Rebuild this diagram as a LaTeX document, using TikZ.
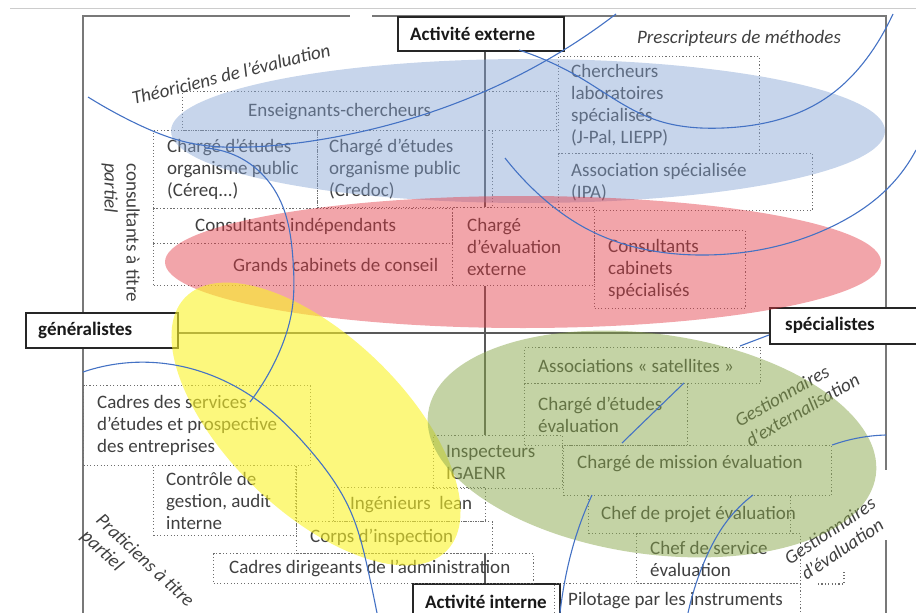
\documentclass[tikz,border=0pt]{standalone}
\usepackage{fontspec}
\setmainfont{Carlito}
\usepackage{tikz}
\usetikzlibrary{positioning,hobby}
\definecolor{textgray}{RGB}{64,64,64}
\definecolor{dotgray}{RGB}{110,110,110}
\definecolor{framegray}{RGB}{120,120,120}
\definecolor{curveblue}{RGB}{68,114,196}
\definecolor{ellblue}{RGB}{131,162,211}
\definecolor{ellred}{RGB}{227,56,67}
\definecolor{ellyellow}{RGB}{250,243,38}
\definecolor{ellgreen}{RGB}{137,167,75}
\tikzset{
  dbox/.style 2 args={draw=dotgray, line width=1.1pt, dash pattern=on 1.1pt off 2.3pt,
    inner sep=0pt, anchor=north west, minimum width=#1pt, minimum height=#2pt},
  lbox/.style 2 args={draw=black!85, line width=1.5pt, fill=white,
    inner sep=0pt, anchor=north west, minimum width=#1pt, minimum height=#2pt},
  txt/.style={font=\fontsize{19}{22}\selectfont, text=textgray, inner sep=0pt, align=left},
  lbl/.style={font=\fontsize{19}{22}\selectfont\bfseries, text=black!90, inner sep=0pt},
  role/.style={font=\fontsize{19}{22}\selectfont\itshape, text=textgray, inner sep=0pt, align=left},
  axis/.style={draw=black!65, line width=1.2pt},
  frame/.style={draw=framegray, line width=1.5pt},
  arc/.style={draw=curveblue, line width=1.1pt},
}

\begin{document}
\begin{tikzpicture}[x=1pt,y=-1pt]
\useasboundingbox (0,0) rectangle (916,613);
\clip (0,0) rectangle (916,613);
% cadre
\draw[black!20] (10,8) -- (916,8);
\draw[frame] (83,613) -- (83,16) -- (350,16);
\draw[frame] (372,16) -- (886,16) -- (886,470);
\draw[frame] (886,540) -- (886,613);

% axes : activite externe / interne, generalistes / specialistes
\node[lbox={166}{34}] (b-actext) at (397,16) {};
\node[lbl, right=13pt of b-actext.west] (actext) {Activité externe};
\node[lbox={152}{35}] (b-genera) at (25,312) {};
\node[lbl, right=13pt of b-genera.west] (genera) {généralistes};
\node[lbox={170}{36}] (b-specia) at (769,307) {};
\node[lbl, right=16pt of b-specia.west] (specia) {spécialistes};
\node[lbox={147}{36}] (b-actint) at (412,583) {};
\node[lbl, right=13pt of b-actint.west] (actint) {Activité interne};

% boites en pointille
\node[dbox={374}{39}] (b-ensch) at (182,91) {};
\node[dbox={164}{78}] (b-cereq) at (153,130) {};
\node[dbox={175}{77}] (b-credoc) at (317,130) {};
\node[dbox={201}{97}] (b-cherch) at (558,56) {};
\node[dbox={254}{57}] (b-ipa) at (558,153) {};
\node[dbox={299}{35}] (b-consind) at (153,208) {};
\node[dbox={299}{42}] (b-grands) at (153,243) {};
\node[dbox={142}{78}] (b-cheval) at (452,207) {};
\node[dbox={151}{78}] (b-conscab) at (594,230) {};
\node[dbox={236}{36}] (b-assoc) at (524,347) {};
\node[dbox={163}{62}] (b-chetud) at (524,383) {};
\node[dbox={129}{53}] (b-insp) at (433,435) {};
\node[dbox={268}{50}] (b-mission) at (563,445) {};
\node[dbox={202}{38}] (b-projet) at (588,495) {};
\node[dbox={164}{50}] (b-service) at (636,533) {};
\node[dbox={246}{34}] (b-pilot) at (554,583) {};
\node[dbox={227}{80}] (b-cadres) at (83,385) {};
\node[dbox={143}{70}] (b-controle) at (153,465) {};
\node[dbox={152}{34}] (b-ingen) at (333,487) {};
\node[dbox={196}{32}] (b-corps) at (296,521) {};
\node[dbox={320}{30}] (b-cadrdir) at (213,553) {};
\draw[dbox={0}{0}] (b-corps.north west) -- ++(0,-56);
\draw[dbox={0}{0}] (818,584) -- (844,584) -- (844,570);

\coordinate (hax) at (0,333);
\coordinate (vax) at (485,0);
\draw[axis] (b-genera.east |- hax) -- (b-specia.west |- hax);
\draw[axis] (b-actext.south -| vax) -- (b-cheval.north -| vax);
\draw[axis] (b-cheval.south -| vax) -- (b-insp.north -| vax);
\draw[axis] (b-corps.south -| vax) -- (b-actint.north -| vax);

% textes des boites
\node[txt, right=66pt of b-ensch.west] (ensch) {Enseignants-chercheurs};
\node[txt, right=14pt of b-cereq.west] (cereq) {Chargé d'études\\organisme public\\(Céreq...)};
\node[txt, right=12pt of b-credoc.west] (credoc) {Chargé d'études\\organisme public\\(Credoc)};
\node[txt, right=13pt of b-cherch.west] (cherch) {Chercheurs\\laboratoires\\spécialisés\\(J-Pal, LIEPP)};
\node[txt, right=13pt of b-ipa.west] (ipa) {Association spécialisée\\(IPA)};
\node[txt, right=42pt of b-consind.west] (consind) {Consultants indépendants};
\node[txt, right=80pt of b-grands.west] (grands) {Grands cabinets de conseil};
\node[txt, right=15pt of b-cheval.west] (cheval) {Chargé\\d'évaluation\\externe};
\node[txt, right=14pt of b-conscab.west] (conscab) {Consultants\\cabinets\\spécialisés};
\node[txt, right=14pt of b-assoc.west] (assoc) {Associations «~satellites~»};
\node[txt, right=14pt of b-chetud.west] (chetud) {Chargé d'études\\évaluation};
\node[txt, right=13pt of b-insp.west] (insp) {Inspecteurs\\IGAENR};
\node[txt, right=14pt of b-mission.west, yshift=7pt] (mission) {Chargé de mission évaluation};
\node[txt, right=13pt of b-projet.west] (projet) {Chef de projet évaluation};
\node[txt, right=14pt of b-service.west] (service) {Chef de service\\évaluation};
\node[txt, right=14pt of b-pilot.west] (pilot) {Pilotage par les instruments};
\node[txt, right=14pt of b-cadres.west] (cadres) {Cadres des services\\d'études et prospective\\des entreprises};
\node[txt, right=13pt of b-controle.west] (controle) {Contrôle de\\gestion, audit\\interne};
\node[txt, right=17pt of b-ingen.west] (ingen) {Ingénieurs\ \ lean};
\node[txt, right=14pt of b-corps.west] (corps) {Corps d'inspection};
\node[txt, right=16pt of b-cadrdir.west] (cadrdir) {Cadres dirigeants de l'administration};

% roles
\node[role, rotate=14] (theor) at (231,74) {Théoriciens de l'évaluation};
\node[role] (presc) at (739,38) {Prescripteurs de méthodes};
\node[txt, rotate=-90, anchor=north west] (consult) at (140,163) {consultants à titre\\\textit{partiel}};
\node[role, rotate=-43, anchor=north west] (prat) at (104,512) {Praticiens à titre\\partiel};
\node[role, rotate=30] (gestext) at (797,400) {Gestionnaires\\d'externalisation};
\node[role, rotate=34, align=center] (gesteval) at (836,540) {Gestionnaires\\d'évaluation};

% zones colorees
\fill[ellblue, fill opacity=.45] (528,131) ellipse [x radius=357, y radius=72];
\fill[ellred, fill opacity=.45] (523,262) ellipse [x radius=358, y radius=66];
\fill[ellyellow, fill opacity=.6, rotate around={-44:(316,424)}] (316,424) ellipse [x radius=182, y radius=88];
\fill[ellgreen, fill opacity=.5, rotate around={-8:(652,444)}] (652,444) ellipse [x radius=226, y radius=110];

% courbes
\draw[arc, use Hobby shortcut] (88,97) .. (133,122) .. (190,143) .. (250,147) .. (330,138) .. (443,108) .. (547,60) .. (616,14);
\draw[arc, use Hobby shortcut] (519,50) .. (579,77) .. (656,120) .. (723,128) .. (823,100) .. (886,28) .. (893,14);
\draw[arc, use Hobby shortcut] (505,158) .. (534,190) .. (589,230) .. (706,255) .. (839,223) .. (886,190) .. (916,150);
\draw[arc, use Hobby shortcut] (205,148) .. (260,172) .. (283,207) .. (293,260) .. (292,310) .. (278,355) .. (250,402);
\draw[arc, use Hobby shortcut] (83,372) .. (160,363) .. (257,400) .. (310,450) .. (350,510) .. (368,570) .. (377,613);
\draw[arc] (740,346) -- (b-specia.west |- 0,335);
\draw[arc, use Hobby shortcut] (622,443) .. (655,411) .. (684,383);
\draw[arc, use Hobby shortcut] (b-mission.north east) .. (858,438) .. (886,435);
\draw[arc, use Hobby shortcut] (592,495) .. (578,530) .. (566,575) .. (560,613);
\draw[arc, use Hobby shortcut] (753,495) .. (727,521) .. (705,560) .. (688,613);
\end{tikzpicture}
\end{document}
